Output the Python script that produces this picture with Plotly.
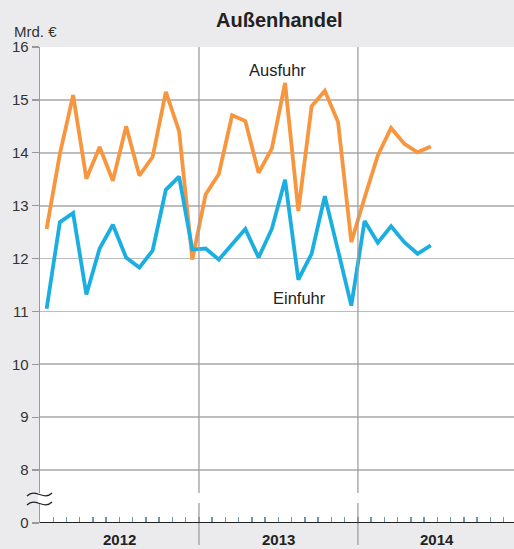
import plotly.graph_objects as go

# ---- data (Mrd. €, monthly, Jan 2012 .. Jun 2014) ----
ausfuhr = [12.56, 13.98, 15.09, 13.51, 14.11, 13.47, 14.50, 13.57, 13.92, 15.15, 14.41, 11.98,
           13.21, 13.60, 14.71, 14.60, 13.62, 14.08, 15.32, 12.90, 14.88, 15.17, 14.58, 12.31,
           13.15, 13.95, 14.47, 14.17, 14.01, 14.12]
einfuhr = [11.05, 12.69, 12.86, 11.32, 12.19, 12.64, 12.02, 11.83, 12.15, 13.30, 13.55, 12.17,
           12.19, 11.98, 12.27, 12.56, 12.02, 12.56, 13.49, 11.60, 12.09, 13.18, 12.15, 11.11,
           12.71, 12.30, 12.61, 12.31, 12.09, 12.25]
years = ["2012", "2013", "2014"]
ytick_vals = [7, 8, 9, 10, 11, 12, 13, 14, 15, 16]
ytick_text = ["0", "8", "9", "10", "11", "12", "13", "14", "15", "16"]

XMAX = 35.78
x = [i + 0.5 for i in range(len(ausfuhr))]

BG = "#EBEBED"
ORANGE = "#F7963F"
BLUE = "#1BAEE0"
GRID = "#BDBDBD"
FONT = "Liberation Sans, Arial, sans-serif"

W, H = 514, 549
ML, MR, MT, MB = 40, 0, 47, 26
PW, PH = W - ML - MR, H - MT - MB


def px(v):
    return (v - ML) / PW


def py(v):
    return (H - MB - v) / PH


fig = go.Figure()
fig.add_trace(go.Scatter(x=x, y=ausfuhr, mode="lines", line=dict(color=ORANGE, width=3.8),
                         hoverinfo="skip", showlegend=False))
fig.add_trace(go.Scatter(x=x, y=einfuhr, mode="lines", line=dict(color=BLUE, width=3.8),
                         hoverinfo="skip", showlegend=False))

shapes = []
# year dividers (extend below the plot into the year label band)
for k in (1, 2):
    xp = 12 * k / XMAX
    shapes.append(dict(type="line", xref="paper", yref="paper", x0=xp, x1=xp,
                       y0=-22 / PH, y1=1, line=dict(color="#9E9E9E", width=1.3), layer="above"))
# break gap
shapes.append(dict(type="rect", xref="paper", yref="paper", x0=px(38), x1=1, y0=py(503), y1=py(493),
                   fillcolor="white", line=dict(width=0), layer="above"))
# zero baseline
shapes.append(dict(type="line", xref="paper", yref="y", x0=0, x1=1, y0=7, y1=7,
                   line=dict(color="#222222", width=2.2), layer="above"))
# axis break symbol: two tildes
for yc in (494.5, 503.5):
    x0, x1, a = 27, 52, 7
    path = "M {},{} C {},{} {},{} {},{}".format(
        px(x0), py(yc + 1.5), px(x0 + 8.5), py(yc - a), px(x0 + 16.5), py(yc + a), px(x1), py(yc - 1.5))
    shapes.append(dict(type="path", xref="paper", yref="paper", path=path,
                       line=dict(color="#222222", width=1.3), layer="above"))

annotations = [
    dict(text="<b>Außenhandel</b>", xref="paper", yref="paper", x=px(279), y=py(20),
         showarrow=False, font=dict(family=FONT, size=20, color="#222"), xanchor="center", yanchor="middle"),
    dict(text="Mrd. €", xref="paper", yref="paper", x=px(12), y=py(32),
         showarrow=False, font=dict(family=FONT, size=15, color="#333"), xanchor="left", yanchor="middle"),
    dict(text="Ausfuhr", x=17.96, y=15.56, showarrow=False,
         font=dict(family=FONT, size=16.5, color="#222"), xanchor="center", yanchor="middle"),
    dict(text="Einfuhr", x=19.6, y=11.26, showarrow=False,
         font=dict(family=FONT, size=16.5, color="#222"), xanchor="center", yanchor="middle"),
]
for i, yr in enumerate(years):
    annotations.append(dict(text="<b>" + yr + "</b>", x=12 * i + 6, xref="x", yref="paper",
                            y=py(539), showarrow=False, yanchor="middle",
                            font=dict(family=FONT, size=15, color="#222")))

fig.update_layout(
    width=W, height=H,
    margin=dict(l=ML, r=MR, t=MT, b=MB),
    paper_bgcolor=BG, plot_bgcolor="white",
    shapes=shapes, annotations=annotations,
    xaxis=dict(range=[0, XMAX], showgrid=False, zeroline=False,
               tickvals=list(range(1, 36)), ticks="inside", ticklen=6, tickwidth=1.5,
               tickcolor="#6F97AA", showticklabels=False, showline=False),
    yaxis=dict(range=[7, 16], tickvals=ytick_vals, ticktext=ytick_text,
               showgrid=True, gridcolor=GRID, gridwidth=1.8, zeroline=False,
               ticks="outside", ticklen=7, tickcolor="#9A9A9A", tickwidth=1.3,
               tickfont=dict(family=FONT, size=15, color="#333"),
               showline=True, linecolor="#9A9A9A", linewidth=1.3),
)

fig.write_html("out.html", config={"displayModeBar": False, "staticPlot": True},
               post_script="document.body.style.margin='0';document.body.style.padding='0';"
                           "document.body.style.overflow='hidden';")
